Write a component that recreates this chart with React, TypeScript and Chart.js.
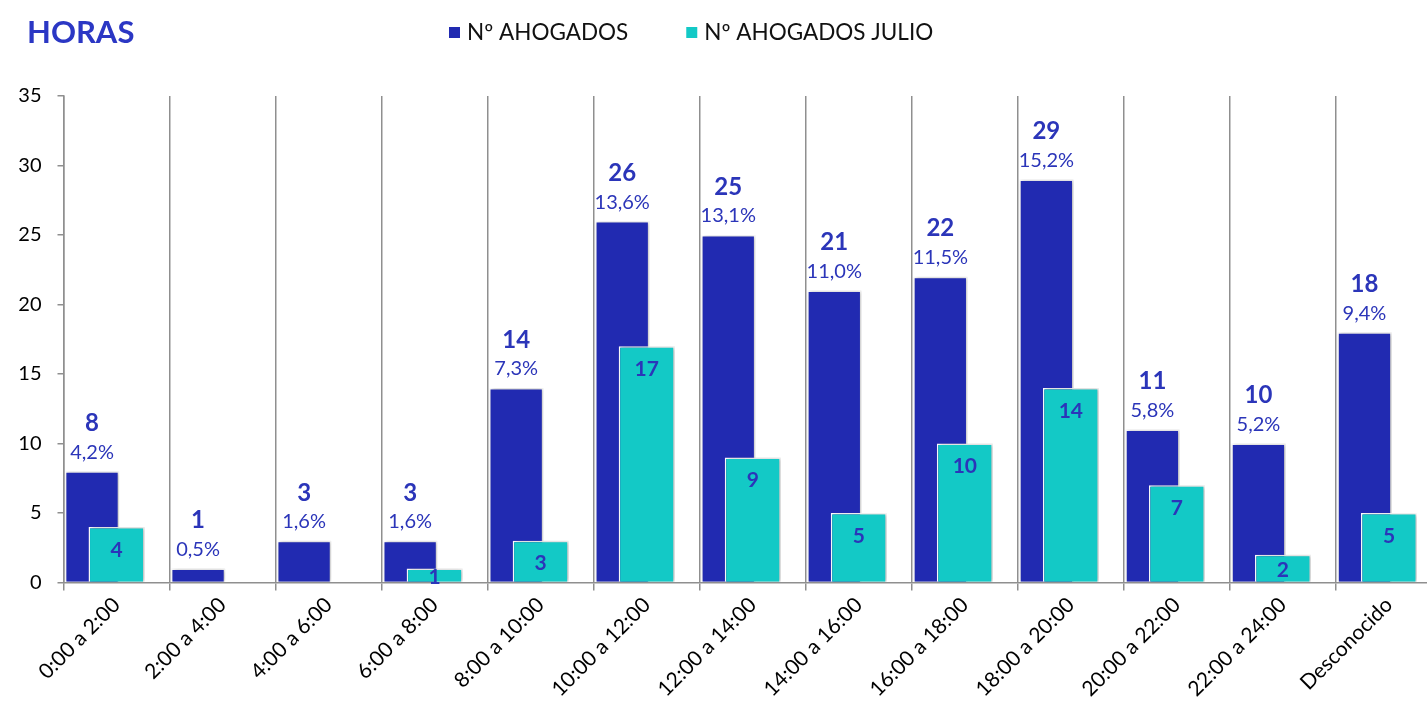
import React, { useEffect, useRef } from "react";
import { Chart, registerables } from "chart.js";

Chart.register(...registerables);

const categories = [
  "0:00 a 2:00",
  "2:00 a 4:00",
  "4:00 a 6:00",
  "6:00 a 8:00",
  "8:00 a 10:00",
  "10:00 a 12:00",
  "12:00 a 14:00",
  "14:00 a 16:00",
  "16:00 a 18:00",
  "18:00 a 20:00",
  "20:00 a 22:00",
  "22:00 a 24:00",
  "Desconocido",
];
const ahogados = [8, 1, 3, 3, 14, 26, 25, 21, 22, 29, 11, 10, 18];
const ahogadosJulio = [4, null, null, 1, 3, 17, 9, 5, 10, 14, 7, 2, 5];
const pctLabels = [
  "4,2%", "0,5%", "1,6%", "1,6%", "7,3%", "13,6%", "13,1%",
  "11,0%", "11,5%", "15,2%", "5,8%", "5,2%", "9,4%",
];
const seriesNames = ["Nº AHOGADOS", "Nº AHOGADOS JULIO"];
const titleText = "HORAS";
const yMax = 35;
const yStep = 5;

const FONT = 'Lato, "Open Sans", sans-serif';
const BLUE = "#212AB1";
const TEAL = "#13C9C6";
const LABEL = "#2B35B9";
const GRID = "#8f8f8f";

const shadowPlugin = {
  id: "barShadow",
  beforeDatasetDraw(chart: any) {
    const ctx = chart.ctx;
    ctx.save();
    ctx.shadowColor = "rgba(0,0,0,0.28)";
    ctx.shadowBlur = 4;
    ctx.shadowOffsetX = 1.5;
    ctx.shadowOffsetY = 0;
  },
  afterDatasetDraw(chart: any) {
    chart.ctx.restore();
  },
};

const labelPlugin = {
  id: "valueLabels",
  afterDatasetsDraw(chart: any) {
    const ctx = chart.ctx;
    const blue = chart.getDatasetMeta(0);
    const teal = chart.getDatasetMeta(1);
    ctx.save();
    ctx.textAlign = "center";
    ctx.textBaseline = "middle";
    ctx.fillStyle = LABEL;
    blue.data.forEach((el: any, i: number) => {
      const v = ahogados[i];
      if (v == null) return;
      const { x, y } = el.getProps(["x", "y"], true);
      ctx.font = `bold 24px ${FONT}`;
      ctx.fillText(String(v), x, y - 48);
      ctx.font = `20px ${FONT}`;
      ctx.fillText(pctLabels[i], x, y - 19);
    });
    teal.data.forEach((el: any, i: number) => {
      const v = ahogadosJulio[i];
      if (v == null) return;
      const { x, y, base } = el.getProps(["x", "y", "base"], true);
      const ly = Math.min(y + 23, (y + base) / 2 + 2);
      ctx.font = `bold 21px ${FONT}`;
      ctx.fillText(String(v), x, ly);
    });
    ctx.restore();
  },
};

const headerPlugin = {
  id: "header",
  afterDraw(chart: any) {
    const ctx = chart.ctx;
    ctx.save();
    ctx.textBaseline = "middle";
    ctx.textAlign = "left";
    ctx.fillStyle = "#2B37C4";
    ctx.font = `bold 31px ${FONT}`;
    ctx.fillText(titleText, 27, 33);

    ctx.font = `22.5px ${FONT}`;
    let x = 449;
    const colors = [BLUE, TEAL];
    seriesNames.forEach((name, i) => {
      ctx.fillStyle = colors[i];
      ctx.fillRect(x, 27, 11, 11);
      ctx.fillStyle = "#111111";
      ctx.fillText(name, x + 18, 33);
      x += 18 + ctx.measureText(name).width + 58;
    });
    ctx.restore();
  },
};

export default function App() {
  const ref = useRef<HTMLCanvasElement>(null);

  useEffect(() => {
    const canvas = ref.current;
    if (!canvas) return;
    const chart = new Chart(canvas, {
      type: "bar",
      data: {
        labels: categories,
        datasets: [
          {
            label: seriesNames[0],
            data: ahogados,
            backgroundColor: BLUE,
            borderColor: "#ffffff",
            borderWidth: 1.5,
            categoryPercentage: 0.924,
            barPercentage: 1.108,
            order: 1,
          },
          {
            label: seriesNames[1],
            data: ahogadosJulio,
            backgroundColor: TEAL,
            borderColor: "#ffffff",
            borderWidth: 1.5,
            grouped: false,
            categoryPercentage: 1,
            barPercentage: 0.528,
            order: 0,
          },
          {
            label: "",
            data: categories.map(() => null),
            backgroundColor: "rgba(0,0,0,0)",
            categoryPercentage: 0.924,
            barPercentage: 1.108,
            order: 2,
          },
        ],
      } as any,
      options: {
        responsive: false,
        animation: false,
        events: [],
        layout: { padding: { top: 96, right: 18, left: 0, bottom: 0 } },
        plugins: {
          legend: { display: false },
          title: { display: false },
          tooltip: { enabled: false },
        },
        scales: {
          x: {
            grid: {
              display: true,
              offset: true,
              drawOnChartArea: true,
              drawTicks: true,
              tickLength: 8,
              color: GRID,
              lineWidth: 1.5,
            },
            border: { display: true, color: GRID, width: 1.5 },
            ticks: {
              autoSkip: false,
              minRotation: 45,
              maxRotation: 45,
              padding: 2,
              color: "#000000",
              font: { family: FONT, size: 21 },
            },
            afterFit(scale: any) {
              scale.height = 134.5;
            },
          },
          y: {
            min: 0,
            max: yMax,
            grid: {
              display: true,
              drawOnChartArea: false,
              drawTicks: true,
              tickLength: 6,
              color: GRID,
              lineWidth: 1.5,
            },
            border: { display: true, color: GRID, width: 1.5 },
            ticks: {
              stepSize: yStep,
              padding: 16,
              color: "#000000",
              font: { family: FONT, size: 20 },
            },
            afterFit(scale: any) {
              scale.width = 63.5;
            },
          },
        },
      } as any,
      plugins: [shadowPlugin, labelPlugin, headerPlugin],
    });
    return () => chart.destroy();
  }, []);

  return (
    <div
      style={{
        position: "fixed",
        left: 0,
        top: 0,
        width: 1427,
        height: 717,
        overflow: "hidden",
        background: "#ffffff",
      }}
    >
      <canvas
        ref={ref}
        width={1460}
        height={717}
        style={{ display: "block", width: 1460, height: 717 }}
      />
    </div>
  );
}
